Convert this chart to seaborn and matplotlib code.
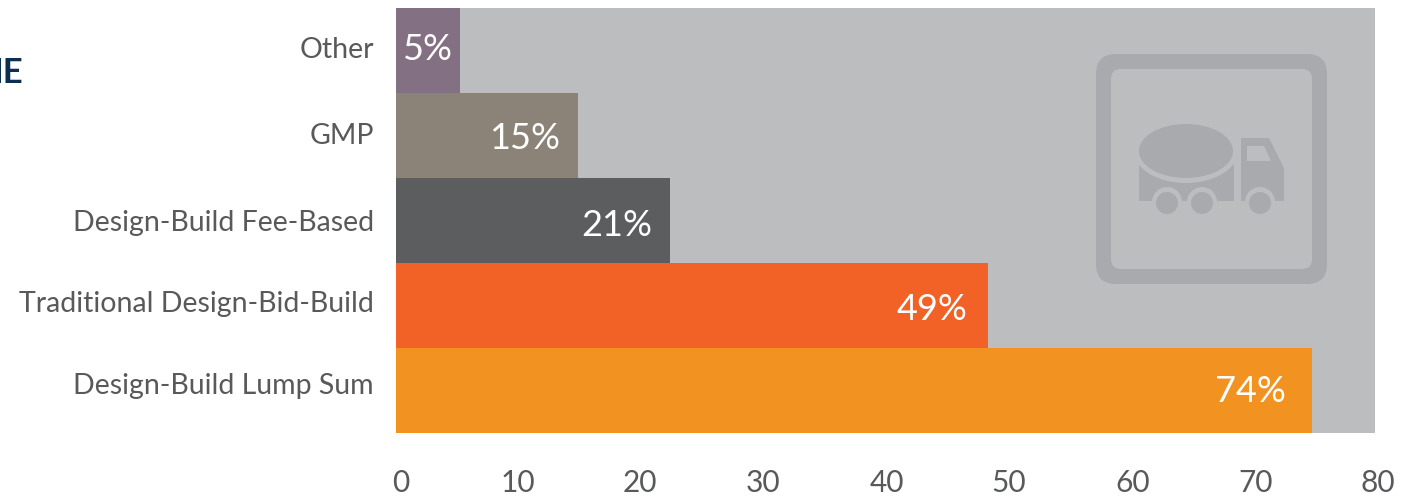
import matplotlib
matplotlib.use("Agg")
import matplotlib.pyplot as plt
import seaborn as sns
from matplotlib.patches import Circle, Ellipse, FancyBboxPatch, Polygon
from matplotlib.transforms import ScaledTranslation

# valores
categories = ["Other", "GMP", "Design-Build Fee-Based", "Traditional Design-Bid-Build", "Design-Build Lump Sum"]
bar_values = [5.2, 14.9, 22.4, 48.4, 74.85]
bar_labels = ["5%", "15%", "21%", "49%", "74%"]
bar_colors = ["#837082", "#8b8377", "#5c5d5f", "#f26125", "#f29321"]
x_ticks = [0, 10, 20, 30, 40, 50, 60, 70, 80]
# ajustes en pixeles para que caigan como en el original
label_pads = [8, 18, 18, 21, 26]
label_dy = [1, -3, -5, -4, -1]
ytick_dy = [3, 2, 0, 4, 7]
xtick_dx = [5, -1, -1, 0, 1, 1, 2, 3, 3]

BG = "#bcbdbf"
ICON = "#a9aaad"
TEXT = "#58595b"

sns.set_theme(style="white")
plt.rcParams["font.family"] = ["Lato", "DejaVu Sans"]

W, H = 1416, 496
fig = plt.figure(figsize=(W / 100, H / 100), dpi=100, facecolor="white")
ax = fig.add_axes([396 / W, 1 - 433 / H, 979 / W, 425 / H], facecolor=BG)

sns.barplot(x=bar_values, y=categories, hue=categories, palette=bar_colors, width=1,
            legend=False, saturation=1, orient="h", linewidth=0, ax=ax)
ax.set_xlim(0, 80)
ax.set_ylim(4.5, -0.5)
sns.despine(ax=ax, left=True, bottom=True)

ax.set_xticks(x_ticks)
ax.tick_params(axis="x", length=0, pad=26, labelsize=21.5, labelcolor=TEXT)
ax.tick_params(axis="y", length=0, pad=16, labelsize=20.5, labelcolor=TEXT)
for t, dx in zip(ax.get_xticklabels(), xtick_dx):
    t.set_transform(t.get_transform() + ScaledTranslation(dx / 100, 0, fig.dpi_scale_trans))
for t, dy in zip(ax.get_yticklabels(), ytick_dy):
    t.set_transform(t.get_transform() + ScaledTranslation(0, dy / 100, fig.dpi_scale_trans))

for i, (val, lab) in enumerate(zip(bar_values, bar_labels)):
    ax.annotate(lab, xy=(val, i), xytext=(-label_pads[i] * 0.72, label_dy[i] * 0.72), textcoords="offset points",
                ha="right", va="center", color="white", fontsize=26)

# titulo cortado por el borde izquierdo
fig.text(23 / W, 1 - 73 / H, "NE", ha="right", va="center", color="#0d2f4f", fontsize=25, fontweight="bold")

# icono del camion, en coordenadas de pixel
ic = fig.add_axes([0, 0, 1, 1], facecolor="none")
ic.set_xlim(0, W)
ic.set_ylim(H, 0)
ic.axis("off")
ic.add_patch(FancyBboxPatch((1116, 74), 191, 190, boxstyle="round,pad=20,rounding_size=20", fc=ICON, ec="none"))
ic.add_patch(FancyBboxPatch((1121, 79), 181, 180, boxstyle="round,pad=10,rounding_size=10", fc=BG, ec="none"))
ic.add_patch(Polygon([(1139, 160), (1234, 160), (1234, 201), (1139, 201)], fc=ICON, ec="none"))
ic.add_patch(Polygon([(1241, 138), (1269, 138), (1284, 168), (1284, 201), (1241, 201)], fc=ICON, ec="none"))
ic.add_patch(Polygon([(1247, 146), (1264, 146), (1271, 161), (1247, 161)], fc=BG, ec="none"))
ic.add_patch(Ellipse((1186, 151), 104, 64, fc=BG, ec="none"))
ic.add_patch(Ellipse((1186, 151), 94, 54, fc=ICON, ec="none"))
for cx in [1167, 1202, 1260]:
    ic.add_patch(Circle((cx, 202), 15, fc=BG, ec="none"))
    ic.add_patch(Circle((cx, 203), 11, fc=ICON, ec="none"))

fig.savefig("out.png", dpi=100)
